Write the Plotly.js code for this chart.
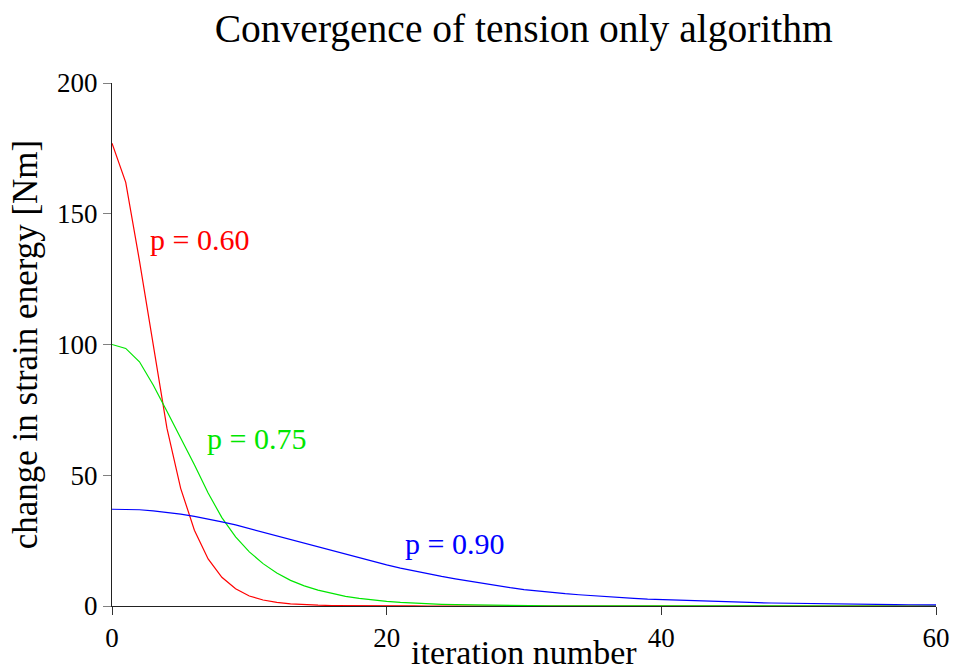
<!DOCTYPE html>
<html>
<head>
<meta charset="utf-8">
<script src="https://cdn.plot.ly/plotly-3.0.1.min.js"></script>
<style>html,body{margin:0;padding:0;background:#fff;}#chart{width:954px;height:671px;}</style>
</head>
<body>
<div id="chart"></div>
<script>
// iteration numbers
const iterations = [];
for (let i = 0; i <= 60; i++) iterations.push(i);

// p = 0.60
const redValues = [177, 162, 132, 100, 68, 45, 29, 18, 11, 6.6, 3.8, 2.3, 1.4, 0.85, 0.5, 0.3, 0.18, 0.11, 0.07, 0.04, 0.025,
  0.015, 0.01, 0.006, 0.004, 0.002, 0.001, 0.001, 0, 0, 0,
  0, 0, 0, 0, 0, 0, 0, 0, 0, 0,
  0, 0, 0, 0, 0, 0, 0, 0, 0, 0,
  0, 0, 0, 0, 0, 0, 0, 0, 0, 0];

// p = 0.75
const greenValues = [100, 98.5, 93.4, 84.5, 74.5, 64.5, 54, 43.2, 33.8, 26.4, 20.7, 16.2, 12.6, 9.8, 7.7, 6.1, 4.8, 3.7, 2.9, 2.3, 1.8,
  1.4, 1.1, 0.85, 0.65, 0.5, 0.4, 0.3, 0.22, 0.17, 0.13,
  0.1, 0.08, 0.06, 0.05, 0.04, 0.03, 0.025, 0.02, 0.015, 0.01,
  0.01, 0.01, 0, 0, 0, 0, 0, 0, 0, 0,
  0, 0, 0, 0, 0, 0, 0, 0, 0, 0];

// p = 0.90
const blueValues = [37, 37, 36.8, 36.4, 35.8, 35.1, 34.3, 33.3, 32.2, 31.0, 29.6, 28.2, 26.8, 25.4, 24.0, 22.6, 21.2, 19.8, 18.4, 17.0, 15.7,
  14.5, 13.4, 12.3, 11.3, 10.4, 9.5, 8.6, 7.8, 7.0, 6.3,
  5.7, 5.2, 4.7, 4.3, 3.9, 3.5, 3.2, 2.9, 2.6, 2.4,
  2.2, 2.0, 1.8, 1.65, 1.5, 1.38, 1.26, 1.15, 1.05, 0.96,
  0.88, 0.8, 0.73, 0.67, 0.61, 0.56, 0.51, 0.47, 0.43, 0.4];

const seriesLabels = ['p = 0.60', 'p = 0.75', 'p = 0.90'];
const labelX = [2.6, 6.8, 21.2];
const labelY = [140, 64, 24];
const colors = ['#ff0000', '#00e600', '#0000ff'];
const xTitle = 'iteration number';

const font = 'Liberation Serif, DejaVu Serif, serif';

const traces = [redValues, greenValues, blueValues].map((v, i) => ({
  x: iterations, y: v, type: 'scatter', mode: 'lines',
  line: {color: colors[i], width: 1.2}, showlegend: false, hoverinfo: 'skip'
}));

const annotations = seriesLabels.map((t, i) => ({
  x: labelX[i], y: labelY[i], xref: 'x', yref: 'y', text: t, showarrow: false,
  xanchor: 'left', yanchor: 'middle', font: {family: font, size: 30, color: colors[i]}
}));
// x-axis title placed as an annotation so it can sit low in the margin as in the reference
annotations.push({
  x: 0.5, y: -0.089, xref: 'paper', yref: 'paper', text: xTitle, showarrow: false,
  xanchor: 'center', yanchor: 'middle', font: {family: font, size: 34, color: '#000'}
});

const layout = {
  width: 954, height: 671,
  margin: {l: 112, r: 18, t: 83, b: 65},
  paper_bgcolor: '#fff', plot_bgcolor: '#fff',
  title: {text: 'Convergence of tension only algorithm', font: {family: font, size: 39.5, color: '#000'},
    x: 0.549, xanchor: 'center', y: 0.958, yanchor: 'middle'},
  xaxis: {range: [0, 60], tickvals: [0, 20, 40, 60], ticktext: ['0', '20', '40', '60'],
    showgrid: false, zeroline: false, showline: true, linecolor: '#222', linewidth: 1,
    ticks: 'outside', ticklen: 8, tickcolor: '#333', tickwidth: 1,
    tickfont: {family: font, size: 27, color: '#000'},
    automargin: false},
  yaxis: {range: [0, 200], tickvals: [0, 50, 100, 150, 200],
    showgrid: false, zeroline: false, showline: true, linecolor: '#222', linewidth: 1,
    ticks: 'outside', ticklen: 8, tickcolor: '#808080', tickwidth: 1,
    tickfont: {family: font, size: 27, color: '#000'},
    title: {text: 'change in strain energy [Nm]', font: {family: font, size: 35, color: '#000'}, standoff: 8},
    automargin: false},
  annotations: annotations
};

Plotly.newPlot('chart', traces, layout, {staticPlot: true, displayModeBar: false});
</script>
</body>
</html>
